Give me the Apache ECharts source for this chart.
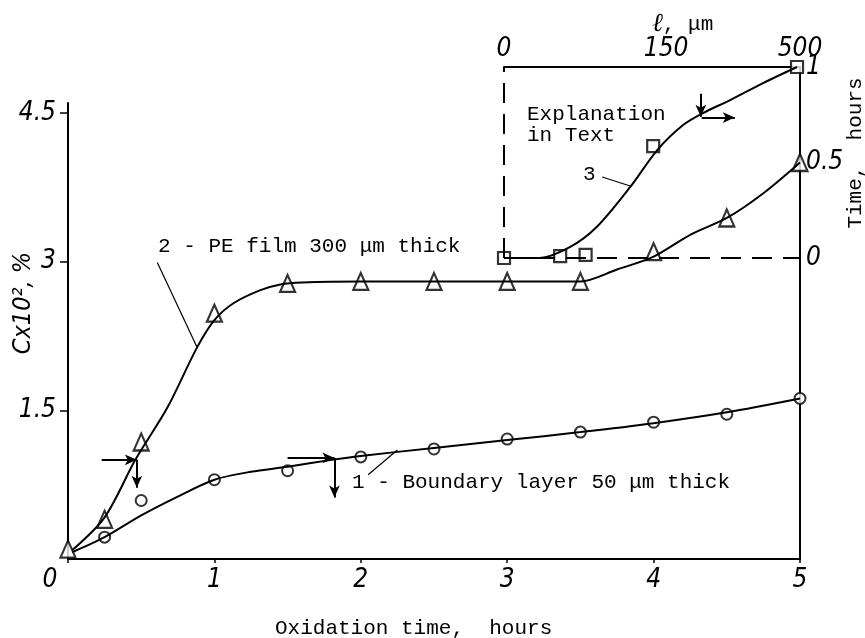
<!DOCTYPE html>
<html><head><meta charset="utf-8">
<script src="https://cdn.jsdelivr.net/npm/echarts@6/dist/echarts.min.js"></script>
<style>html,body{margin:0;padding:0;background:#fff}#c{width:865px;height:638px}</style>
</head><body><div id="c"></div>
<script>
// ---- tick labels ----
const xTickLabels = ['0', '1', '2', '3', '4', '5'];
const yTickValues = [1.5, 3, 4.5];
const insetLengthTicks = [0, 150, 500];     // ℓ, μm (square-root scale)
const insetTimeTicks = [0, 0.5, 1];         // Time, hours

// ---- curve 1: boundary layer 50 μm (circles) ----
const boundaryHours = [0.25, 0.5, 1, 1.5, 2, 2.5, 3, 3.5, 4, 4.5, 5];
const boundaryConc  = [0.22, 0.59, 0.80, 0.89, 1.03, 1.11, 1.21, 1.28, 1.38, 1.46, 1.62];
const boundaryFitHours = [0.03, 0.25, 0.5, 0.75, 1, 1.25, 1.5, 1.8, 2, 2.5, 3, 3.5, 4, 4.5, 5];
const boundaryFitConc  = [0.07, 0.22, 0.44, 0.63, 0.80, 0.88, 0.93, 1.0, 1.04, 1.12, 1.20, 1.28, 1.37, 1.48, 1.62];

// ---- curve 2: PE film 300 μm (triangles) ----
const filmHours = [0, 0.25, 0.5, 1, 1.5, 2, 2.5, 3, 3.5, 4, 4.5, 5];
const filmConc  = [0.1, 0.4, 1.18, 2.48, 2.78, 2.8, 2.8, 2.8, 2.8, 3.1, 3.44, 4.0];
const filmFitHours = [0.03, 0.25, 0.46, 0.68, 0.88, 1.0, 1.13, 1.31, 1.45, 1.6, 2, 2.5, 3, 3.5, 3.75, 4, 4.25, 4.5, 4.75, 5];
const filmFitConc  = [0.09, 0.42, 1.0, 1.53, 2.13, 2.41, 2.58, 2.71, 2.77, 2.79, 2.8, 2.8, 2.8, 2.8, 2.92, 3.05, 3.27, 3.44, 3.69, 4.0];

// ---- curve 3 (inset): depth ℓ vs time (squares) ----
const depthLength = [0, 18, 38, 127, 490];
const depthTime   = [0, 0.01, 0.016, 0.586, 1.0];
const depthFitLength = [0, 7, 25, 49, 91, 134, 183, 226, 292, 383, 490];
const depthFitTime   = [0, 0, 0.058, 0.162, 0.372, 0.565, 0.696, 0.759, 0.827, 0.916, 1.0];

// ---- arrows and leader lines (data units) ----
const mainArrows = [
  [[0.23, 1.0], [0.47, 1.0]], [[0.47, 1.0], [0.47, 0.72]],
  [[1.50, 1.02], [1.82, 1.02]], [[1.82, 1.02], [1.82, 0.62]]
];
const mainLeaders = [
  [[0.61, 2.99], [0.88, 2.14]],
  [[2.05, 0.85], [2.25, 1.10]]
];
const insetArrows = [
  [[221, 0.86], [221, 0.74]], [[223, 0.735], [304, 0.735]]
];
const insetLeaders = [
  [[55, 0.424], [91, 0.377]]
];
// inset dashed frame: ℓ = 0 edge and time = 0 edge
const insetDashed = [
  [[0, 0], [0, 1]],
  [[0, 0], [500, 0]]
];

const sq = v => Math.sqrt(v);
const zip = (a, b) => a.map((v, i) => [v, b[i]]);
const zipSq = (a, b) => a.map((v, i) => [sq(v), b[i]]);

const tickFont = {
  fontFamily: "'Liberation Sans Narrow','DejaVu Sans Condensed','Liberation Sans',sans-serif",
  fontStyle: 'italic', fontSize: 26, color: '#000'
};
const MONO = "'Liberation Mono','DejaVu Sans Mono',monospace";
const monoFont = { fontFamily: MONO, fontSize: 21, fill: '#000' };
const INK = '#000';

function lineMarks(pairs, kind, mapX) {
  const f = mapX || (v => v);
  const arrow = kind === 'arrow';
  return {
    silent: true, animation: false,
    symbol: arrow ? ['none', 'arrow'] : ['none', 'none'],
    symbolSize: [8, 12],
    label: { show: false },
    lineStyle: {
      color: INK,
      width: kind === 'leader' ? 1.2 : 2,
      type: kind === 'dashed' ? [20, 11] : 'solid'
    },
    emphasis: { disabled: true },
    data: pairs.map(p => [{ coord: [f(p[0][0]), p[0][1]] }, { coord: [f(p[1][0]), p[1][1]] }])
  };
}

const chart = echarts.init(document.getElementById('c'));
chart.setOption({
  animation: false,
  backgroundColor: '#fff',
  grid: [
    { left: 68, right: 65, top: 103, bottom: 79, outerBoundsMode: 'none' },
    { left: 504, right: 65, top: 67, height: 191, outerBoundsMode: 'none' }
  ],
  xAxis: [
    { // main time axis
      gridIndex: 0, type: 'value', min: 0, max: 5, interval: 1,
      axisLine: { lineStyle: { color: INK, width: 2 } },
      axisTick: { show: true, length: 4, lineStyle: { color: INK, width: 1.5 } },
      splitLine: { show: false },
      axisLabel: Object.assign({}, tickFont, {
        margin: 8,
        formatter: v => v === 0 ? '{o|' + xTickLabels[0] + '}' : xTickLabels[Math.round(v)],
        rich: { o: Object.assign({}, tickFont, { padding: [0, 36, 0, 0] }) }
      })
    },
    { // inset ℓ axis (top), square-root scale
      gridIndex: 1, type: 'value', position: 'top', min: 0, max: sq(500),
      axisLine: { onZero: false, lineStyle: { color: INK, width: 2 } },
      axisTick: { show: false },
      splitLine: { show: false },
      axisLabel: Object.assign({}, tickFont, {
        margin: 5,
        customValues: insetLengthTicks.map(sq),
        formatter: v => String(Math.round(v * v))
      })
    }
  ],
  yAxis: [
    { // main concentration axis
      gridIndex: 0, type: 'value', min: 0, max: 4.6,
      name: 'Cx10², %', nameLocation: 'middle', nameRotate: 90, nameGap: 32,
      nameMoveOverlap: false,
      nameTextStyle: Object.assign({}, tickFont, { fontSize: 25, padding: [0, 0, 0, 56] }),
      axisLine: { lineStyle: { color: INK, width: 2 } },
      axisTick: { show: true, length: 8, customValues: yTickValues, lineStyle: { color: INK, width: 1.5 } },
      splitLine: { show: false },
      axisLabel: Object.assign({}, tickFont, {
        margin: 12, customValues: yTickValues,
        formatter: v => String(v)
      })
    },
    { // inset time axis (right)
      gridIndex: 1, type: 'value', position: 'right', min: 0, max: 1,
      axisLine: { onZero: false, lineStyle: { color: INK, width: 2 } },
      axisTick: { show: false },
      splitLine: { show: false },
      axisLabel: Object.assign({}, tickFont, {
        margin: 6, customValues: insetTimeTicks,
        formatter: v => String(v)
      })
    },
    { // main right frame line
      gridIndex: 0, type: 'value', position: 'right', min: 0, max: 4.6,
      axisLine: { lineStyle: { color: INK, width: 2 } },
      axisTick: { show: false }, axisLabel: { show: false }, splitLine: { show: false }
    }
  ],
  series: [
    {
      name: 'Boundary layer fit', type: 'line', xAxisIndex: 0, yAxisIndex: 0,
      data: zip(boundaryFitHours, boundaryFitConc), smooth: 0.3,
      symbol: 'none', lineStyle: { color: INK, width: 2 },
      markLine: lineMarks(mainArrows, 'arrow')
    },
    {
      name: 'PE film fit', type: 'line', xAxisIndex: 0, yAxisIndex: 0,
      data: zip(filmFitHours, filmFitConc), smooth: 0.3,
      symbol: 'none', lineStyle: { color: INK, width: 2 },
      markLine: lineMarks(mainLeaders, 'leader')
    },
    {
      name: 'Inset frame', type: 'line', xAxisIndex: 1, yAxisIndex: 1,
      data: [], markLine: lineMarks(insetDashed, 'dashed', sq)
    },
    {
      name: 'Depth fit', type: 'line', xAxisIndex: 1, yAxisIndex: 1,
      data: zipSq(depthFitLength, depthFitTime), smooth: 0.3,
      symbol: 'none', lineStyle: { color: INK, width: 2 },
      markLine: lineMarks(insetArrows, 'arrow', sq)
    },
    {
      name: 'Inset leader', type: 'line', xAxisIndex: 1, yAxisIndex: 1,
      data: [], markLine: lineMarks(insetLeaders, 'leader', sq)
    },
    {
      name: '1 - Boundary layer 50 μm thick', type: 'scatter', xAxisIndex: 0, yAxisIndex: 0,
      data: zip(boundaryHours, boundaryConc), symbol: 'circle', symbolSize: 11,
      itemStyle: { color: '#fff', borderColor: INK, borderWidth: 2 }
    },
    {
      name: '2 - PE film 300 μm thick', type: 'scatter', xAxisIndex: 0, yAxisIndex: 0,
      data: zip(filmHours, filmConc), symbol: 'triangle', symbolSize: [15, 17],
      itemStyle: { color: '#fff', borderColor: INK, borderWidth: 2.2 }
    },
    {
      name: '3', type: 'scatter', xAxisIndex: 1, yAxisIndex: 1,
      data: zipSq(depthLength, depthTime), symbol: 'rect', symbolSize: 12,
      itemStyle: { color: '#fff', borderColor: INK, borderWidth: 2.2 }
    }
  ],
  graphic: [
    { type: 'text', left: 158, top: 236, style: Object.assign({ text: '2 - PE film 300 μm thick' }, monoFont) },
    { type: 'text', left: 352, top: 472, style: Object.assign({ text: '1 - Boundary layer 50 μm thick' }, monoFont) },
    { type: 'text', left: 583, top: 164, style: Object.assign({ text: '3' }, monoFont) },
    { type: 'text', left: 527, top: 104, style: Object.assign({ text: 'Explanation\nin Text', lineHeight: 21 }, monoFont) },
    { type: 'text', left: 652, top: 11, style: {
        text: '{l|ℓ}{m|, μm}',
        rich: {
          l: { fontFamily: "'DejaVu Serif',serif", fontStyle: 'italic', fontSize: 26, fill: '#000' },
          m: { fontFamily: MONO, fontSize: 21, fill: '#000' }
        }
    } },
    { type: 'text', left: 275, top: 618, style: Object.assign({ text: 'Oxidation time,  hours' }, monoFont) },
    { type: 'text', x: 855, y: 153, rotation: Math.PI / 2,
      style: Object.assign({ text: 'Time,  hours', align: 'center', verticalAlign: 'middle' }, monoFont) }
  ]
});
</script>
</body></html>
